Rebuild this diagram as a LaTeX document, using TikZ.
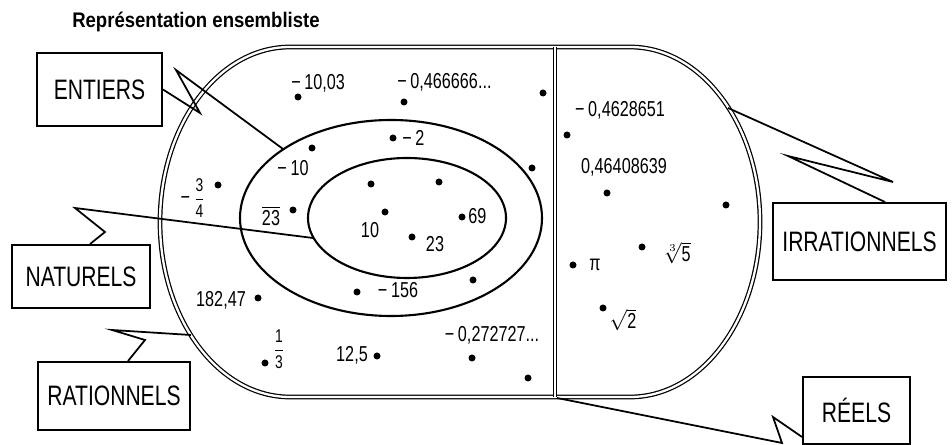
\documentclass[tikz,border=0pt]{standalone}
\usepackage{amsmath}
\usepackage{fontspec}
\setsansfont{Liberation Sans}[FakeStretch=0.75]
\newfontfamily\titrefont{Liberation Sans}[FakeStretch=0.88]
\renewcommand{\familydefault}{\sfdefault}

\begin{document}
\begin{tikzpicture}[x=0.02cm,y=0.02cm,
  pnt/.style={circle,fill,inner sep=0pt,minimum size=0.14cm},
  num/.style={inner sep=0pt,font=\fontsize{12.3}{14}\selectfont},
  box/.style={draw,line width=1.1pt,inner sep=0pt,font=\fontsize{16}{19}\selectfont},
  zig/.style={line width=1pt,line join=miter}]
\useasboundingbox (0,0) rectangle (952,445);

\node[font=\titrefont\bfseries\fontsize{12}{14}\selectfont] (titre) at (196,423) {Représentation ensembliste};

% les ensembles
\draw[line width=0.7pt,double,double distance=1.3pt] (290,398) -- (630,398) arc[start angle=90,end angle=-90,x radius=130,y radius=175] -- (290,48) arc[start angle=270,end angle=90,x radius=130,y radius=175] -- cycle;
\draw[line width=0.7pt,double,double distance=1.3pt] (555,398) -- (555,48);
\draw[line width=1.2pt] (391,227) ellipse[x radius=151,y radius=98];
\draw[line width=1.2pt] (407,227) ellipse[x radius=99,y radius=60];

% les cadres
\node[box,minimum width=2.5cm,minimum height=1.46cm] (ent) at (99.5,355.5) {ENTIERS};
\node[box,minimum width=2.76cm,minimum height=1.26cm] (nat) at (81,168.5) {NATURELS};
\node[box,minimum width=3.04cm,minimum height=1.36cm] (rat) at (114,49) {RATIONNELS};
\node[box,minimum width=3.46cm,minimum height=1.54cm] (irr) at (859.5,203.5) {IRRATIONNELS};
\node[box,minimum width=2.14cm,minimum height=1.34cm] (ree) at (856.5,34.5) {RÉELS};

\coordinate (pE) at (283,296);
\coordinate (pN) at (313,207);
\coordinate (pR) at (191,110);
\coordinate (pI) at (728,337);
\coordinate (pRe) at (557,47);
\draw[zig] (ent.east) -- (200,332) -- (176,375) -- (pE);
\draw[zig] ([xshift=0.18cm]nat.north) -- (105,213) -- (75,237) -- (pN);
\draw[zig] ([xshift=0.28cm]rat.north) -- (145,105) -- (112,115) -- (pR);
\draw[zig] ([xshift=0.51cm]irr.north) -- (788,289) -- (893,263) -- (pI);
\draw[zig] ([yshift=-0.53cm]ree.west) -- (773,28) -- (782,2) -- (pRe);

% les nombres
\node[pnt] (d1) at (298,348) {};
\node[num,anchor=west] (l1) at (291,362) {−\,10,03};
\node[pnt] (d2) at (404,343) {};
\node[num,anchor=west] (l2) at (397,363) {−\,0,466666...};
\node[pnt] (d3) at (543,352) {};
\node[pnt] (d4) at (393,307) {};
\node[num,anchor=west] (l4) at (402,307) {−\,2};
\node[pnt] (d5) at (312,297) {};
\node[num] (l5) at (293,277) {−\,10};
\node[pnt] (d6) at (293,235) {};
\node[num] (l6) at (271,229) {$\overline{\text{23}}$};
\node[pnt] (d7) at (371,261) {};
\node[pnt] (d8) at (439,263) {};
\node[pnt] (d9) at (385,233) {};
\node[num] (l9) at (370,215) {10};
\node[pnt] (d10) at (412,208) {};
\node[num] (l10) at (435,201) {23};
\node[pnt] (d11) at (462,228) {};
\node[num,anchor=west] (l11) at (468,229) {69};
\node[pnt] (d12) at (532,277) {};
\node[pnt] (d13) at (473,165) {};
\node[pnt] (d14) at (357,153) {};
\node[num] (l14) at (398,155) {−\,156};
\node[pnt] (d15) at (218,260) {};
\node[num] (l15) at (193,247) {−\,{\fontsize{10.5}{12}\selectfont$\dfrac{\text{3}}{\text{4}}$}};
\node[pnt] (d16) at (258,147) {};
\node[num] (l16) at (221,145) {182,47};
\node[pnt] (d17) at (265,82) {};
\node[num] (l17) at (279,96) {\fontsize{10.5}{12}\selectfont$\dfrac{\text{1}}{\text{3}}$};
\node[pnt] (d18) at (377,89) {};
\node[num] (l18) at (352,90) {12,5};
\node[pnt] (d19) at (472,87) {};
\node[num] (l19) at (492,110) {−\,0,272727...};
\node[pnt] (d20) at (528,67) {};
\node[pnt] (d21) at (567,310) {};
\node[num] (l21) at (620,335) {−\,0,4628651};
\node[pnt] (d22) at (607,252) {};
\node[num] (l22) at (624,278) {0,46408639};
\node[pnt] (d23) at (726,240) {};
\node[pnt] (d24) at (642,198) {};
\node[num] (l24) at (677,192) {$\sqrt[3]{\text{5}}$};
\node[pnt] (d25) at (573,180) {};
\node[num] (l25) at (595,180) {π};
\node[pnt] (d26) at (603,137) {};
\node[num] (l26) at (623,125) {$\sqrt{\text{2}}$};
\end{tikzpicture}
\end{document}
